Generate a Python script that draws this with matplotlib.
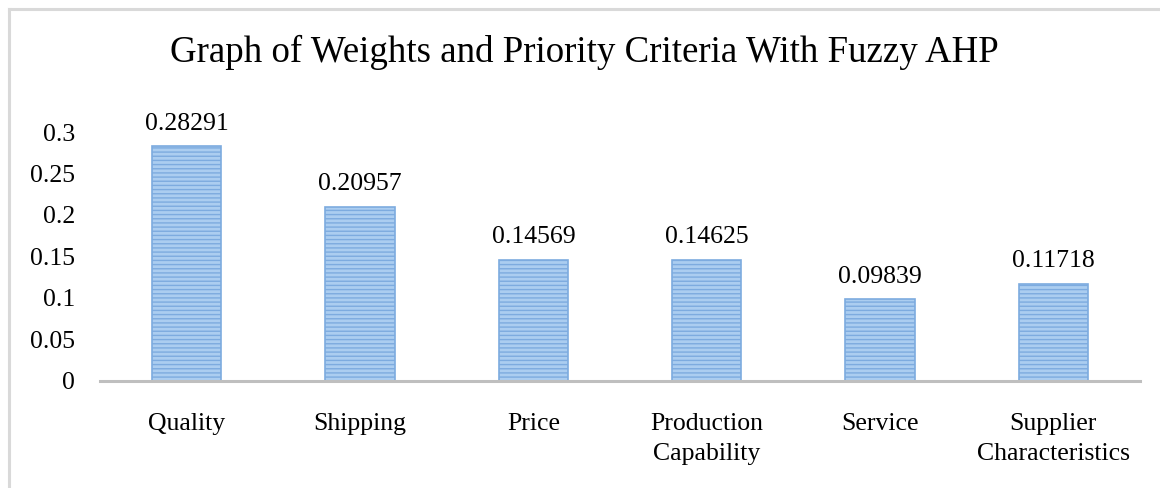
import matplotlib.pyplot as plt
from matplotlib.lines import Line2D

plt.rcParams['font.family'] = ['Liberation Serif', 'DejaVu Serif']
plt.rcParams['hatch.linewidth'] = 1.0

categories = ["Quality", "Shipping", "Price", "Production\nCapability",
              "Service", "Supplier\nCharacteristics"]
weights = [0.28291, 0.20957, 0.14569, 0.14625, 0.09839, 0.11718]
labels = ["0.28291", "0.20957", "0.14569", "0.14625", "0.09839", "0.11718"]

fig = plt.figure(figsize=(11.6, 4.88), dpi=100)
ax = fig.add_axes([0.0862, 0.2193, 0.8966, 0.5102])

x = range(len(categories))
plt.rcParams['hatch.color'] = '#82B0E2'
bars = ax.bar(x, weights, width=0.4, color='#ABCDF0', edgecolor='#7DABDF',
              linewidth=1.2, hatch='----')

for xi, w, lab in zip(x, weights, labels):
    ax.text(xi, w + 0.014, lab, ha='center', va='bottom', fontsize=18.5,
            clip_on=False)

ax.set_xlim(-0.5, len(categories) - 0.5)
ax.set_ylim(0, 0.3)
ax.set_yticks([0, 0.05, 0.1, 0.15, 0.2, 0.25, 0.3])
ax.set_yticklabels(["0", "0.05", "0.1", "0.15", "0.2", "0.25", "0.3"])
ax.set_xticks(list(x))
ax.set_xticklabels(categories, linespacing=1.45)
ax.tick_params(axis='both', length=0, labelsize=18.5)
ax.tick_params(axis='y', pad=18)
ax.tick_params(axis='x', pad=23)

for s in ['top', 'right', 'left']:
    ax.spines[s].set_visible(False)
ax.spines['bottom'].set_color('#BFBFBF')
ax.spines['bottom'].set_linewidth(2.2)

fig.text(0.504, 0.893, "Graph of Weights and Priority Criteria With Fuzzy AHP",
         ha='center', va='center', fontsize=26.6)

# chart border (top and left visible)
fig.add_artist(Line2D([9 / 1160, 9 / 1160], [0, 1 - 9 / 488],
                      transform=fig.transFigure, color='#D9D9D9', linewidth=2.2))
fig.add_artist(Line2D([9 / 1160, 1], [1 - 9 / 488, 1 - 9 / 488],
                      transform=fig.transFigure, color='#D9D9D9', linewidth=2.2))

fig.savefig("out.png", dpi=100)
